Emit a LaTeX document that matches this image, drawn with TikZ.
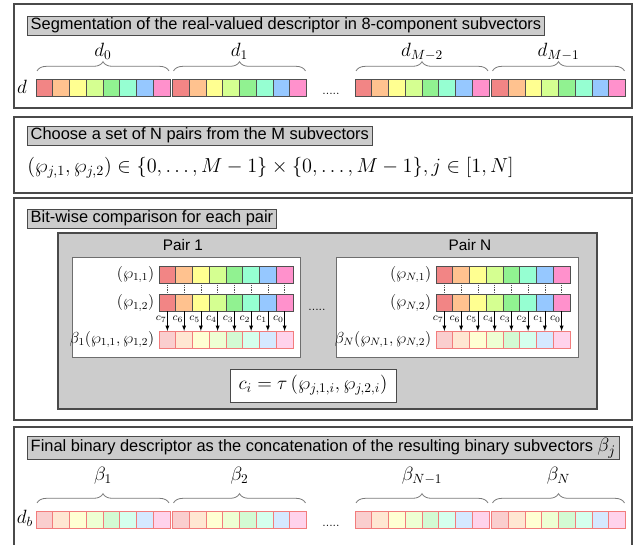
\documentclass[tikz,border=0pt]{standalone}
\usepackage{amssymb,amsmath}
\usepackage{graphicx}
\usepackage{fontspec}
\usepackage{xcolor}
\usepackage{tikz}
\usetikzlibrary{arrows}
\usetikzlibrary{decorations.pathreplacing}
\newfontfamily\boxfont{Liberation Sans}
\definecolor{framecolor}{HTML}{4A4A4A}
\definecolor{boxgray}{HTML}{CCCCCC}
\definecolor{cellline}{HTML}{505050}
\definecolor{softline}{HTML}{F27C7C}
\definecolor{bracecolor}{HTML}{7A7A7A}
\definecolor{col0}{HTML}{F28585}
\definecolor{col1}{HTML}{FFC28F}
\definecolor{col2}{HTML}{FFFF91}
\definecolor{col3}{HTML}{D5FF91}
\definecolor{col4}{HTML}{91F291}
\definecolor{col5}{HTML}{96FFD2}
\definecolor{col6}{HTML}{96C8FF}
\definecolor{col7}{HTML}{FF91CC}

\begin{document}
\begin{tikzpicture}[x=0.75pt,y=-0.75pt,
    panel/.style={draw=framecolor,line width=1.1pt},
    titlebox/.style={draw=framecolor,fill=boxgray,line width=0.6pt,anchor=north west,
        inner xsep=2.5pt,inner ysep=1.2pt,text height=9pt,text depth=2.6pt,
        font=\boxfont\fontsize{12.3}{14}\selectfont},
    cell/.style={draw=cellline,line width=0.7pt,minimum width=12.56pt,minimum height=12.75pt,inner sep=0pt,outer sep=0pt},
    softcell/.style={draw=softline,line width=0.7pt,minimum width=12.56pt,minimum height=12.75pt,inner sep=0pt,outer sep=0pt},
    grp/.style={draw=bracecolor,line width=0.6pt,decorate,decoration={brace,amplitude=7pt}},
    pairbox/.style={draw=framecolor!80,fill=white,line width=0.6pt},
    pairlabel/.style={font=\boxfont\fontsize{11.5}{13}\selectfont},
    dots/.style={anchor=base,font=\small}]
\useasboundingbox (0,0) rectangle (633,545);

%% segmentation in subvectors
\draw[panel] (14,4) rectangle (632,108);
\node[titlebox] (segtitle) at (27,16) {Segmentation of the real-valued descriptor in 8-component subvectors};
\foreach \g/\gx/\glab in {0/36/0,1/172.5/1,2/355/{M-2},3/491.5/{M-1}} {
  \foreach \i in {0,...,7}
    \node[cell,fill=col\i] (d\g c\i) at ({\gx+8.375+16.75*\i},87.5) {};
  \draw[grp] ({\gx+1},71) -- ({\gx+133},71);
  \node[anchor=base,font=\Large] (dname\g) at ({\gx+67},57) {$d_{\glab}$};
}
\node[font=\Large] (dvec) at (22,87) {$d$};
\node[dots] (gapd) at (331,95) {.....};

%% choice of the pairs
\draw[panel] (14,117) rectangle (632,193);
\node[titlebox] (pairtitle) at (27,126) {Choose a set of N pairs from the M subvectors};
\node[anchor=west,font=\Large,inner sep=0pt] (pairset) at (27,168)
  {\scalebox{1.056}{$(\wp_{j,1},\wp_{j,2})\in\{0,\dots,M-1\}\times\{0,\dots,M-1\}, j\in[1,N]$}};

%% bit-wise comparison
\draw[panel] (14,198) rectangle (632,420);
\node[titlebox] (cmptitle) at (27,209) {Bit-wise comparison for each pair};
\draw[draw=framecolor,fill=boxgray,line width=1.5pt] (58,233) rectangle (597,409);
\draw[pairbox] (72,257) rectangle (300,357);
\draw[pairbox] (336,257) rectangle (578,357);
\node[pairlabel] (pairone) at (183,245) {Pair 1};
\node[pairlabel] (pairlast) at (470,245) {Pair N};
\foreach \p/\px in {1/159,N/436} {
  \foreach \i [evaluate=\i as \k using int(7-\i)] in {0,...,7} {
    \node[cell,fill=col\i] (p\p a\i) at ({\px+8.375+16.75*\i},274.5) {};
    \node[cell,fill=col\i] (p\p b\i) at ({\px+8.375+16.75*\i},303) {};
    \node[softcell,fill=col\i!40] (p\p c\i) at ({\px+8.375+16.75*\i},339.5) {};
    \draw[densely dotted,cellline] (p\p a\i) -- (p\p b\i);
    \draw[-latex] (p\p b\i) -- (p\p c\i)
      node[pos=0.4,left=0pt,inner sep=0.5pt,font=\footnotesize] (lab\p\i) {$c_{\k}$};
  }
  \node[anchor=east,font=\large] (p\p first) at (p\p a0.west) {$(\wp_{\p,1})$};
  \node[anchor=east,font=\large] (p\p second) at (p\p b0.west) {$(\wp_{\p,2})$};
  \node[anchor=east,font=\large] (p\p soft) at (p\p c0.west) {$\beta_{\p}(\wp_{\p,1},\wp_{\p,2})$};
}
\node[dots] (gappair) at (317,311) {.....};
\node[draw=framecolor,fill=white,line width=0.6pt,minimum width=124.5pt,minimum height=24.75pt,font=\Large] (taurule)
  at (313,385.5) {$c_i=\tau\left(\wp_{j,1,i},\wp_{j,2,i}\right)$};

%% final binary descriptor
\draw[panel] (14,427) rectangle (632,560);
\node[titlebox,text height=10.5pt,text depth=4pt] (finaltitle) at (27,436)
  {Final binary descriptor as the concatenation of the resulting binary subvectors {\fontsize{15.5}{18}\selectfont$\beta_j$}};
\foreach \g/\gx/\glab in {0/36/1,1/172.5/2,2/355/{N-1},3/491.5/N} {
  \foreach \i in {0,...,7}
    \node[softcell,fill=col\i!40] (b\g c\i) at ({\gx+8.375+16.75*\i},519.5) {};
  \draw[grp] ({\gx+1},503) -- ({\gx+133},503);
  \node[anchor=base,font=\Large] (bname\g) at ({\gx+67},481) {$\beta_{\glab}$};
}
\node[font=\Large] (dbin) at (25,518) {$d_b$};
\node[dots] (gapb) at (331,527) {.....};
\end{tikzpicture}
\end{document}
